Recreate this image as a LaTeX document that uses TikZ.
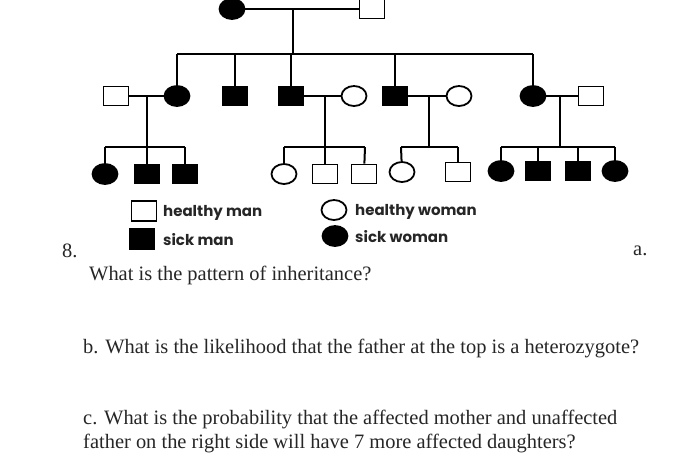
\documentclass[tikz,border=0pt]{standalone}
\usepackage{fontspec}
\setmainfont{Liberation Serif}
\newfontfamily\legfont{Poppins}
\usetikzlibrary{shapes.geometric}
\tikzset{
  male/.style={rectangle,draw=black,line width=1.8pt,fill=white,minimum width=25pt,minimum height=19pt,inner sep=0pt},
  female/.style={ellipse,draw=black,line width=1.8pt,fill=white,minimum width=25pt,minimum height=20pt,inner sep=0pt},
  sick/.style={fill=black},
  link/.style={draw=black,line width=2pt},
  legtext/.style={anchor=west,inner sep=0pt,font=\legfont\bfseries\fontsize{15}{15}\selectfont,text=black!85},
  qtext/.style={anchor=west,inner sep=0pt,font=\fontsize{20.45}{20.45}\selectfont,text=black!85}
}
\begin{document}
\begin{tikzpicture}[x=1pt,y=-1pt]
\useasboundingbox[fill=white] (0,0) rectangle (700,472);
% coordinates of bars
\coordinate (t) at (293,9);
\coordinate (tb) at (293,54);
\coordinate (bl) at (177,54);
\coordinate (br) at (533,54);
\coordinate (c1) at (147,96); \coordinate (s1) at (147,147);
\coordinate (c2) at (325,96); \coordinate (s2) at (325,147);
\coordinate (c3) at (429,96); \coordinate (s3) at (429,147);
\coordinate (c4) at (560,96); \coordinate (s4) at (560,147);
\coordinate (s1l) at (105,147); \coordinate (s1r) at (185,147);
\coordinate (s2l) at (284,147); \coordinate (s2r) at (365,147);
\coordinate (s3l) at (401,147); \coordinate (s3r) at (458,147);
\coordinate (s4l) at (501,147); \coordinate (s4r) at (615,147);
\coordinate (j2) at (235,54); \coordinate (j3) at (291,54); \coordinate (j4) at (395,54);
% generation 1
\node[female,sick] (gm) at (232,9) {};
\node[male] (gf) at (372,9) {};
% generation 2
\node[male] (a1) at (116,96) {};
\node[female,sick] (a2) at (177,96) {};
\node[male,sick] (a3) at (235,96) {};
\node[male,sick] (a4) at (291,96) {};
\node[female] (a5) at (354,96) {};
\node[male,sick] (a6) at (395,96) {};
\node[female] (a7) at (459,96) {};
\node[female,sick] (a8) at (533,96) {};
\node[male] (a9) at (591,96) {};
% generation 3
\node[female,sick] (b1) at (105,174) {};
\node[male,sick] (b2) at (147,174) {};
\node[male,sick] (b3) at (185,174) {};
\node[female] (b4) at (284,174) {};
\node[male] (b5) at (325,174) {};
\node[male] (b6) at (364,174) {};
\node[female] (b7) at (402,172) {};
\node[male] (b8) at (458,172) {};
\node[female,sick] (b9) at (501,171) {};
\node[male,sick] (b10) at (538,171) {};
\node[male,sick] (b11) at (578,171) {};
\node[female,sick] (b12) at (615,171) {};
% links
\draw[link] (gm) -- (gf);
\draw[link] (t) -- (tb);
\draw[link] (bl) -- (br);
\draw[link] (bl) -- (a2);
\draw[link] (j2) -- (a3);
\draw[link] (j3) -- (a4);
\draw[link] (j4) -- (a6);
\draw[link] (br) -- (a8);
\draw[link] (a1) -- (a2);
\draw[link] (a4) -- (a5);
\draw[link] (a6) -- (a7);
\draw[link] (a8) -- (a9);
\draw[link] (c1) -- (s1);
\draw[link] (c2) -- (s2);
\draw[link] (c3) -- (s3);
\draw[link] (c4) -- (s4);
\draw[link] (s1l) -- (s1r);
\draw[link] (s2l) -- (s2r);
\draw[link] (s3l) -- (s3r);
\draw[link] (s4l) -- (s4r);
\draw[link] (s1l) -- (b1);
\draw[link] (s1) -- (b2);
\draw[link] (s1r) -- (b3);
\draw[link] (s2l) -- (b4);
\draw[link] (s2) -- (b5);
\draw[link] (s2r) -- (b6);
\draw[link] (s3l) -- (b7);
\draw[link] (s3r) -- (b8);
\draw[link] (s4l) -- (b9);
\draw[link] (b10|-s4) -- (b10);
\draw[link] (b11|-s4) -- (b11);
\draw[link] (s4r) -- (b12);
% legend
\node[male,minimum height=20pt] (l1) at (144,211) {};
\node[legtext] (l1t) at (163,213) {healthy man};
\node[female] (l2) at (334,210) {};
\node[legtext] (l2t) at (355,212) {healthy woman};
\node[male,sick,minimum height=20pt] (l3) at (142,239) {};
\node[legtext] (l3t) at (163,240) {sick man};
\node[female,sick] (l4) at (335,236) {};
\node[legtext] (l4t) at (355,237) {sick woman};
% text
\node[qtext] (q8) at (62,251) {8.};
\node[qtext] (qa) at (633,251) {a.};
\node[qtext] (qa2) at (89,275) {What is the pattern of inheritance?};
\node[qtext] (qb) at (83,348) {b. What is the likelihood that the father at the top is a heterozygote?};
\node[qtext] (qc1) at (83,419) {c. What is the probability that the affected mother and unaffected};
\node[qtext] (qc2) at (83,443) {father on the right side will have 7 more affected daughters?};
\end{tikzpicture}
\end{document}
